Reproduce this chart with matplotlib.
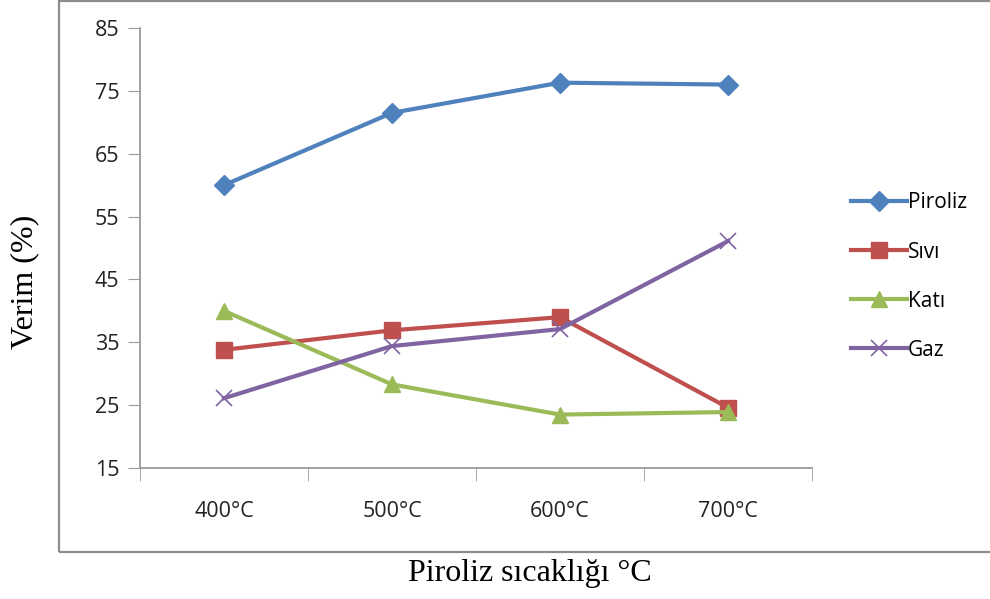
import matplotlib
matplotlib.use("Agg")
import matplotlib.pyplot as plt
from matplotlib.patches import Rectangle

# 数据
categories = ["400°C", "500°C", "600°C", "700°C"]
piroliz = [60.0, 71.5, 76.3, 76.0]
sivi = [33.8, 36.9, 39.0, 24.6]
kati = [40.0, 28.3, 23.5, 23.9]
gaz = [26.1, 34.4, 37.1, 51.1]
y_ticks = [15, 25, 35, 45, 55, 65, 75, 85]

series = [
    ("Piroliz", piroliz, "#4F81BD", "D", 10),
    ("Sıvı", sivi, "#C0504D", "s", 12),
    ("Katı", kati, "#9BBB59", "^", 12),
    ("Gaz", gaz, "#8064A2", "x", 12),
]

plt.rcParams["font.family"] = ["Open Sans", "DejaVu Sans"]

fig = plt.figure(figsize=(9.9, 5.99), dpi=100)
ax = fig.add_axes([140 / 990, 1 - 468 / 599, 672 / 990, 440 / 599])

x = list(range(len(categories)))
for name, vals, color, marker, ms in series:
    ax.plot(x, vals, color=color, linewidth=3, marker=marker, markersize=ms,
            markeredgewidth=1 if marker != "x" else 1.2,
            markeredgecolor=color, markerfacecolor=color, label=name)

ax.set_xlim(-0.5, len(categories) - 0.5)
ax.set_ylim(15, 85)
ax.set_yticks(y_ticks)
ax.set_xticks(x)
ax.set_xticklabels(categories)
ax.set_xticks([i - 0.5 for i in range(len(categories) + 1)], minor=True)
ax.tick_params(axis="x", which="major", length=0, pad=24, labelsize=15.5,
               labelcolor="#222222")
ax.tick_params(axis="x", which="minor", length=9, color="#9a9a9a",
               direction="out")
ax.tick_params(axis="y", length=9, color="#9a9a9a", labelsize=15.5,
               labelcolor="#222222", pad=6)
for side in ["top", "right"]:
    ax.spines[side].set_visible(False)
for side in ["left", "bottom"]:
    ax.spines[side].set_color("#9a9a9a")
    ax.spines[side].set_linewidth(1.3)

leg = ax.legend(loc="center left", bbox_to_anchor=(1.03, 0.435), frameon=False,
                fontsize=15, handlelength=2.7, handletextpad=0.05,
                labelspacing=1.35)

fig.text(25 / 990, 1 - 282 / 599, "Verim (%)", rotation=90, ha="center",
         va="center", fontsize=23, family="Liberation Serif")
fig.text(530 / 990, 1 - 574 / 599, "Piroliz sıcaklığı °C", ha="center",
         va="center", fontsize=23, family="Liberation Serif")

# 外框
fig.patches.append(Rectangle((59 / 990, 1 - 552 / 599), 1.0, 552 / 599 - 0.001,
                             transform=fig.transFigure, fill=False,
                             edgecolor="#8c8c8c", linewidth=1.6))

fig.savefig("out.png", dpi=100)
